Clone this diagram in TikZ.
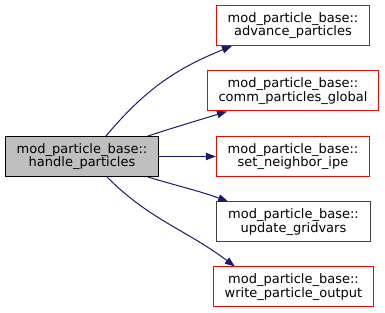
\documentclass[tikz,border=0pt]{standalone}
\usepackage{fontspec}
\setmainfont{DejaVu Sans}
\usetikzlibrary{arrows.meta}
\definecolor{edgeblue}{HTML}{191970}
\begin{document}
\begin{tikzpicture}[x=0.75pt,y=0.75pt,
  fn/.style={rectangle,draw,line width=0.75pt,fill=white,align=center,
    font=\fontsize{9.75}{10}\selectfont,minimum height=30pt,inner xsep=8.5pt,inner ysep=0pt},
  cur/.style={fill=black!25},
  ext/.style={draw=red},
  doc/.style={draw=black!75},
  a/.style={-{Triangle[length=7.5pt,width=5.5pt]},draw=edgeblue,line width=0.75pt}]

\useasboundingbox (0,0) rectangle (385,313);

% caller
\node[fn,cur] (handle) at (82,156.5) {mod\_particle\_base::\\handle\_particles};

% callees
\node[fn,ext] (advance) at (293,287.5) {mod\_particle\_base::\\advance\_particles};
\node[fn,ext] (comm) at (293,222) {mod\_particle\_base::\\comm\_particles\_global};
\node[fn,ext] (setnb) at (293,156.5) {mod\_particle\_base::\\set\_neighbor\_ipe};
\node[fn,doc] (update) at (293.5,91) {mod\_particle\_base::\\update\_gridvars};
\node[fn,ext] (write) at (293.5,26) {mod\_particle\_base::\\write\_particle\_output};

% calls
\draw[a] ([xshift=18pt]handle.north) to[out=50,in=202] ([xshift=-45.75pt]advance.south);
\draw[a] ([xshift=49.5pt]handle.north) to[out=18,in=197] ([xshift=-49.5pt]comm.south);
\draw[a] (handle.east) -- (setnb.west);
\draw[a] ([xshift=49.5pt]handle.south) to[out=-17,in=160] ([xshift=-49pt]update.north);
\draw[a] ([xshift=18.75pt]handle.south) to[out=-45,in=143] ([xshift=-44pt]write.north);
\end{tikzpicture}
\end{document}
